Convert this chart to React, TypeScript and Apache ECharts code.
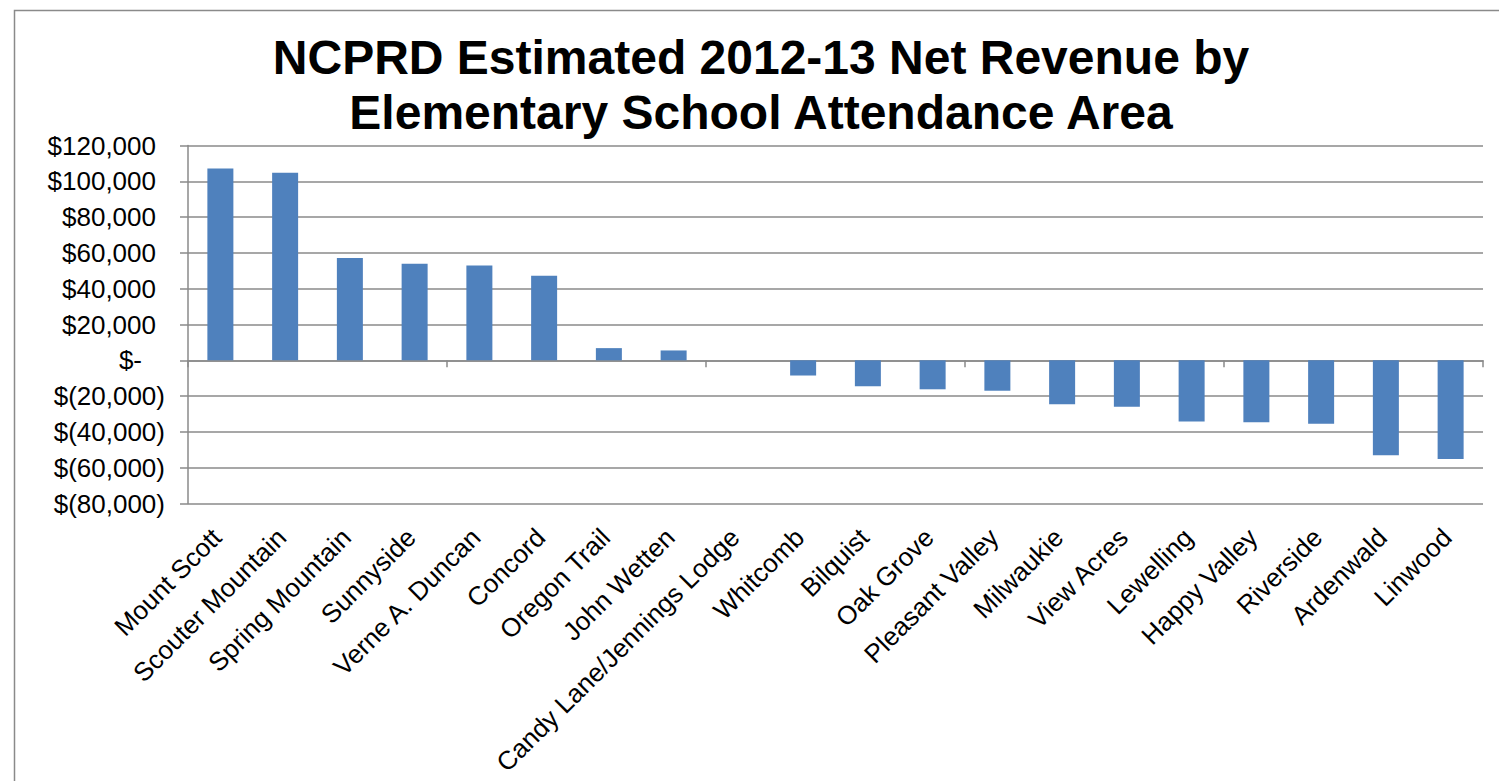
import React, { useEffect, useRef } from "react";
import * as echarts from "echarts";

const titleLines = [
  "NCPRD Estimated 2012-13 Net Revenue by",
  "Elementary School Attendance Area",
];

const categories = [
  "Mount Scott",
  "Scouter Mountain",
  "Spring Mountain",
  "Sunnyside",
  "Verne A. Duncan",
  "Concord",
  "Oregon Trail",
  "John Wetten",
  "Candy Lane/Jennings Lodge",
  "Whitcomb",
  "Bilquist",
  "Oak Grove",
  "Pleasant Valley",
  "Milwaukie",
  "View Acres",
  "Lewelling",
  "Happy Valley",
  "Riverside",
  "Ardenwald",
  "Linwood",
];

const netRevenue = [
  107200, 104800, 57100, 54000, 53000, 47200, 6800, 5500, 0, -8500, -14500,
  -16200, -17000, -24500, -26000, -34200, -34600, -35500, -53000, -55200,
];

const yMin = -80000;
const yMax = 120000;
const yStep = 20000;

const FONT = "'Liberation Sans', Arial, Helvetica, sans-serif";
const GRID_GRAY = "#8a8a8a";

function fmtMoney(v: number): string {
  const s = Math.abs(v).toLocaleString("en-US");
  if (v > 0) return "{pos|$" + s + "}";
  if (v === 0) return "{zero|$-}";
  return "{neg|$(" + s + ")}";
}

export default function App() {
  const ref = useRef<HTMLDivElement>(null);

  useEffect(() => {
    if (!ref.current) return;
    const chart = echarts.init(ref.current, undefined, { renderer: "svg" });
    const labelBase = { fontFamily: FONT, fontSize: 26, color: "#000" };
    chart.setOption({
      animation: false,
      backgroundColor: "#ffffff",
      title: {
        text: titleLines.join("\n"),
        left: 761,
        top: 30,
        textAlign: "center",
        padding: 0,
        textStyle: {
          fontFamily: FONT,
          fontWeight: "bold",
          fontSize: 48,
          lineHeight: 55,
          color: "#000",
        },
      },
      graphic: [
        {
          type: "rect",
          left: 12,
          top: 8,
          shape: { width: 1600, height: 900 },
          style: { fill: "none", stroke: GRID_GRAY, lineWidth: 1.5 },
          silent: true,
          z: -10,
        },
      ],
      grid: {
        left: 188,
        right: 16,
        top: 145.5,
        height: 358,
        containLabel: false,
      },
      xAxis: [
        {
          type: "category",
          data: categories,
          position: "bottom",
          axisLine: {
            onZero: true,
            lineStyle: { color: GRID_GRAY, width: 1.5 },
          },
          axisTick: {
            show: true,
            inside: false,
            length: 7,
            lineStyle: { color: GRID_GRAY, width: 1.5 },
          },
          axisLabel: { show: false },
          splitLine: { show: false },
        },
        {
          type: "category",
          data: categories,
          position: "bottom",
          axisLine: { show: false, onZero: false },
          axisTick: { show: false },
          splitLine: { show: false },
          axisLabel: {
            ...labelBase,
            rotate: 45,
            margin: 26,
            padding: [0, 5, 0, 0],
            interval: 0,
          },
        },
      ],
      yAxis: {
        type: "value",
        min: yMin,
        max: yMax,
        interval: yStep,
        axisLine: { show: true, lineStyle: { color: GRID_GRAY, width: 1.5 } },
        axisTick: {
          show: true,
          length: 8,
          lineStyle: { color: GRID_GRAY, width: 1.5 },
        },
        splitLine: { show: true, lineStyle: { color: GRID_GRAY, width: 1.5 } },
        axisLabel: {
          margin: 23,
          formatter: (v: number) => fmtMoney(v),
          rich: {
            pos: { ...labelBase, padding: [0, 9, 0, 0] },
            zero: { ...labelBase, padding: [0, 23, 0, 0] },
            neg: { ...labelBase },
          },
        },
      },
      series: [
        {
          type: "bar",
          xAxisIndex: 0,
          data: netRevenue,
          barWidth: 26,
          itemStyle: { color: "#4F81BD" },
        },
      ],
    });
    return () => chart.dispose();
  }, []);

  return (
    <div
      ref={ref}
      style={{
        position: "fixed",
        left: 0,
        top: 0,
        width: 1499,
        height: 781,
      }}
    />
  );
}
